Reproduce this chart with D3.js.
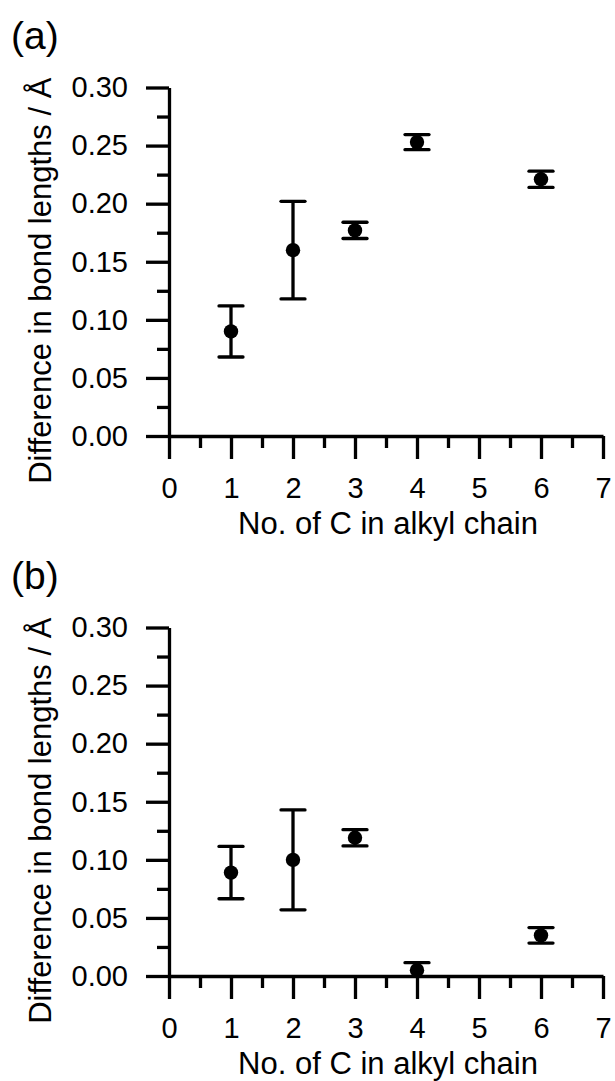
<!DOCTYPE html>
<html>
<head>
<meta charset="utf-8">
<script src="https://cdn.jsdelivr.net/npm/d3@7"></script>
<style>
  html, body { margin: 0; padding: 0; background: #fff; }
  svg { display: block; }
  text { font-family: "Liberation Sans", Arial, sans-serif; fill: #000; }
  .tick text { font-size: 29px; }
  .title { font-size: 31px; }
  .panel-label { font-size: 39px; }
</style>
</head>
<body>
<svg id="chart" width="615" height="1081"></svg>
<script>
// number of carbons in the alkyl chain
const carbons = [1, 2, 3, 4, 6]

// panel (a)
const diffA = [0.090, 0.160, 0.177, 0.253, 0.221]
const errA  = [0.022, 0.042, 0.007, 0.0065, 0.007]

// panel (b)
const diffB = [0.089, 0.100, 0.119, 0.005, 0.035]
const errB  = [0.0225, 0.043, 0.007, 0.0065, 0.0067]

const xTicks = [0, 1, 2, 3, 4, 5, 6, 7]
const xMinor = [0.5, 1.5, 2.5, 3.5, 4.5, 5.5, 6.5]
const yTicks = [0, 0.05, 0.10, 0.15, 0.20, 0.25, 0.30]
const yMinor = [0.025, 0.075, 0.125, 0.175, 0.225, 0.275]

const panels = [
  { label: '(a)', values: diffA, errors: errA },
  { label: '(b)', values: diffB, errors: errB }
]

const svg = d3.select('#chart')
const plotLeft = 169, plotRight = 603, plotTop = 87.5, plotBottom = 436
const panelStep = 540
const lw = 3.3

const x = d3.scaleLinear().domain([0, 7]).range([plotLeft, plotRight])
const y = d3.scaleLinear().domain([0, 0.30]).range([plotBottom, plotTop])

panels.forEach((p, i) => {
  const g = svg.append('g').attr('transform', `translate(0,${i * panelStep})`)
  const clipId = 'clip' + i

  // keep the marks above the x axis, like the original where the lower cap hides behind it
  g.append('clipPath').attr('id', clipId)
    .append('rect')
    .attr('x', plotLeft).attr('y', plotTop - 20)
    .attr('width', plotRight - plotLeft + 10).attr('height', plotBottom - plotTop + 20)

  const rows = carbons.map((c, k) => ({ c, v: p.values[k], e: p.errors[k] }))
  const marks = g.append('g').attr('clip-path', `url(#${clipId})`)

  const bar = marks.selectAll('g.bar').data(rows).join('g').attr('class', 'bar')
  bar.append('line')
    .attr('x1', d => x(d.c)).attr('x2', d => x(d.c))
    .attr('y1', d => y(d.v - d.e)).attr('y2', d => y(d.v + d.e))
    .style('stroke', '#000').style('stroke-width', lw)
  ;[-1, 1].forEach(s => {
    bar.append('line')
      .attr('x1', d => x(d.c) - 12).attr('x2', d => x(d.c) + 12)
      .attr('y1', d => y(d.v + s * d.e)).attr('y2', d => y(d.v + s * d.e))
      .style('stroke', '#000').style('stroke-width', lw)
      .style('stroke-linecap', 'round')
  })
  bar.append('circle')
    .attr('cx', d => x(d.c)).attr('cy', d => y(d.v))
    .attr('r', 7.2).style('fill', '#000')

  // y axis, major then minor
  g.append('g').attr('transform', `translate(${plotLeft},0)`)
    .call(d3.axisLeft(y).tickValues(yTicks).tickSize(23).tickSizeOuter(0)
      .tickPadding(18).tickFormat(d3.format('.2f')))
  g.append('g').attr('transform', `translate(${plotLeft},0)`)
    .call(d3.axisLeft(y).tickValues(yMinor).tickSize(12).tickSizeOuter(0).tickFormat(''))
    .select('.domain').remove()

  // x axis
  g.append('g').attr('transform', `translate(0,${plotBottom})`)
    .call(d3.axisBottom(x).tickValues(xTicks).tickSize(23).tickSizeOuter(0)
      .tickPadding(18).tickFormat(d3.format('d')))
  g.append('g').attr('transform', `translate(0,${plotBottom})`)
    .call(d3.axisBottom(x).tickValues(xMinor).tickSize(12).tickSizeOuter(0).tickFormat(''))
    .select('.domain').remove()

  g.selectAll('.domain, .tick line')
    .style('stroke', '#000').style('stroke-width', lw)
  g.selectAll('.tick text')
    .style('font-size', '29px').style('fill', '#000')

  // axis titles
  g.append('text').attr('class', 'title')
    .attr('x', (plotLeft + plotRight) / 2 + 2).attr('y', 534)
    .attr('text-anchor', 'middle')
    .text('No. of C in alkyl chain')
  g.append('text').attr('class', 'title')
    .attr('transform', `translate(51,${(plotTop + plotBottom) / 2 + 19}) rotate(-90)`)
    .attr('text-anchor', 'middle')
    .text('Difference in bond lengths / Å')

  // panel label
  g.append('text').attr('class', 'panel-label')
    .attr('x', 11).attr('y', 49)
    .text(p.label)
})
</script>
</body>
</html>
